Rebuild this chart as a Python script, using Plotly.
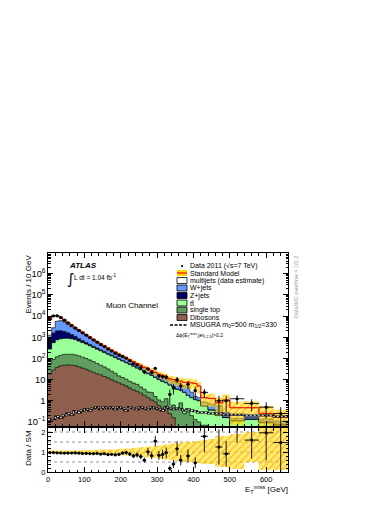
import numpy as np
import plotly.graph_objects as go

# ----------------------------------------------------------------------
# Data (Events / 10 GeV)
# ----------------------------------------------------------------------
BIN_EDGES = list(range(0, 430, 10)) + [440, 460, 480, 500, 540, 580, 620, 660]

DIBOSONS = [18, 28, 38, 45, 48, 49, 48, 46, 40, 35,
            31, 26, 22, 19, 17, 14, 12, 10, 8.3, 7.1,
            6.0, 5.0, 4.0, 3.3, 2.8, 2.3, 1.8, 1.4, 1.1, 0.9,
            0.6, 0.45, 0.56, 0.25, 0.16, 0.03, 0.03, 0.03, 0.03, 0.03,
            0.02, 0.02, 0.01, 0.01, 0.01, 0.01, 0.01, 0.01, 0.01, 0.01]
SINGLE_TOP = [38, 61, 82, 96, 107, 109, 110, 102, 92, 80,
              69, 59, 49, 39, 31, 26, 20, 15, 11.7, 7.9,
              6.6, 5.5, 4.3, 3.6, 3.2, 2.2, 1.7, 1.2, 1.4, 0.7,
              0.5, 0.45, 0.7, 0.25, 0.47, 0.37, 0.77, 0.22, 0.27, 0.17,
              0.11, 0.08, 0.06, 0.05, 0.04, 0.03, 0.02, 0.02, 0.02, 0.01]
TTBAR = [224, 470, 640, 710, 735, 732, 692, 628, 528, 447,
         379, 313, 260, 217, 181, 151, 126, 107, 90, 76,
         63, 52, 44, 36, 29, 24.5, 20.5, 16.4, 13.5, 11,
         8.9, 7.4, 5.8, 5.0, 4.0, 3.1, 2.4, 2.25, 1.5, 1.2,
         1.0, 0.9, 0.5, 0.3, 0.15, 0.12, 0.08, 0.1, 0.06, 0.05]
ZJETS = [610, 1020, 1240, 1200, 1000, 750, 500, 330, 200, 130,
         85, 60, 45, 34, 26, 20, 15, 11, 8, 6,
         4.5, 3.5, 2.6, 2, 1.5, 1.1, 0.8, 0.6, 0.5, 0.4,
         0.3, 0.25, 0.2, 0.15, 0.12, 0.1, 0.08, 0.06, 0.05, 0.04,
         0.03, 0.03, 0.02, 0.02, 0.01, 0.01, 0.01, 0.01, 0.01, 0.01]
WJETS = [370, 1240, 3700, 4060, 3370, 2300, 1800, 1400, 1100, 860,
         660, 495, 375, 275, 210, 158, 120, 93, 74, 55,
         43, 33, 26, 21, 17, 15, 11, 10, 8.5, 8,
         6.3, 5.9, 4.7, 3.8, 3.6, 3.5, 3.0, 2.4, 2.6, 1.1,
         0.47, 0.37, 0.28, 0.33, 0.37, 0.11, 0.03, 0.03, 0.04, 0.03]
MULTIJETS = [5820, 7680, 5000, 2800, 1500, 1070, 650, 370, 280, 188,
             127, 97, 62, 47, 36, 29, 23, 15, 12, 10,
             8, 7, 6, 5, 4, 3, 3, 2, 2, 1,
             1.4, 1.5, 1.5, 1.5, 1.7, 1.5, 2.2, 2.5, 3.0, 4.5,
             4.9, 3.6, 0.53, 0.59, 0.22, 0.82, 0.32, 0.3, 0.115, 0.06]
MSUGRA = [0.13, 0.14, 0.18, 0.16, 0.2, 0.25, 0.22, 0.32, 0.28, 0.35,
          0.4, 0.35, 0.45, 0.5, 0.4, 0.5, 0.45, 0.5, 0.4, 0.5,
          0.45, 0.35, 0.5, 0.45, 0.4, 0.5, 0.45, 0.4, 0.5, 0.45,
          0.4, 0.35, 0.5, 0.45, 0.4, 0.45, 0.4, 0.35, 0.4, 0.35,
          0.32, 0.28, 0.28, 0.25, 0.25, 0.22, 0.22, 0.2, 0.2, 0.18]
DATA = [6890, 10190, 10270, 8460, 6390, 4750, 3610, 2750, 2110, 1620,
        1256, 966, 745, 586, 450, 364, 275, 222, 175, 143,
        124, 103, 78, 57, 49, 37, 23, 32, 22, 34,
        15, 14, 13, 2, 4, 10, 5, None, 6, None,
        3, None, 2.5, None, 1.0, 1.0, 1.25, 0.75, 0.5, 0.25]
# relative SM uncertainty (up / down)
SYST_UP = [0.08, 0.08, 0.08, 0.08, 0.08, 0.08, 0.08, 0.08, 0.08, 0.09,
           0.10, 0.10, 0.11, 0.11, 0.12, 0.12, 0.13, 0.13, 0.14, 0.15,
           0.16, 0.17, 0.18, 0.20, 0.22, 0.24, 0.25, 0.27, 0.28, 0.30,
           0.32, 0.35, 0.38, 0.40, 0.42, 0.45, 0.45, 0.50, 0.50, 0.50,
           0.55, 0.55, 0.60, 0.65, 0.80, 0.80, 0.90, 1.0, 1.2, 1.2]
SYST_DN = [0.08, 0.08, 0.08, 0.08, 0.08, 0.08, 0.08, 0.08, 0.08, 0.09,
           0.10, 0.10, 0.11, 0.11, 0.12, 0.12, 0.13, 0.13, 0.14, 0.15,
           0.16, 0.17, 0.18, 0.20, 0.22, 0.24, 0.25, 0.27, 0.28, 0.30,
           0.32, 0.35, 0.38, 0.40, 0.42, 0.45, 0.45, 0.50, 0.50, 0.50,
           0.55, 0.55, 0.60, 0.60, 0.75, 0.75, 0.85, 0.50, 0.90, 0.90]

# ----------------------------------------------------------------------
# Style
# ----------------------------------------------------------------------
FONT = "Liberation Sans"
COLORS = {
    "Dibosons": "#8e5f4c",
    "single top": "#5f9e5f",
    "ttbar": "#99ff99",
    "Z+jets": "#000066",
    "W+jets": "#6699ff",
    "multijets": "#ffffff",
}
BAND_BG = "rgba(255,225,0,0.6)"
BAND_FG = "rgba(255,70,0,0.7)"

# figure pixel frame
W, H = 390, 505
L, R, T, B = 48, 288, 253, 472


def px_x(p):
    return (p - L) / (R - L)


def px_y(p):
    return (B - p) / (B - T)


def step(vals):
    return list(vals) + [vals[-1]]


edges = np.array(BIN_EDGES, dtype=float)
centers = 0.5 * (edges[1:] + edges[:-1])
widths = edges[1:] - edges[:-1]
scale = widths / 10.0

components = [
    ("Dibosons", DIBOSONS),
    ("single top", SINGLE_TOP),
    ("ttbar", TTBAR),
    ("Z+jets", ZJETS),
    ("W+jets", WJETS),
    ("multijets", MULTIJETS),
]
sm = np.sum([np.array(v, dtype=float) for _, v in components], axis=0)
up = sm * (1 + np.array(SYST_UP))
dn = np.maximum(sm * (1 - np.array(SYST_DN)), 1e-3)

data = np.array([np.nan if v is None else v for v in DATA], dtype=float)
counts = data * scale
err = np.sqrt(counts) / scale
err_lo = np.minimum(err, 0.97 * data)
ratio = data / sm
ratio_err = err / sm

fig = go.Figure()

# stacked backgrounds
for name, vals in components:
    fig.add_trace(go.Scatter(
        x=edges, y=step(vals), mode="lines", stackgroup="sm",
        line=dict(shape="hv", color="black", width=0.7),
        fillcolor=COLORS[name], xaxis="x", yaxis="y",
    ))

# SM uncertainty band
band_pattern = dict(shape="/", bgcolor=BAND_BG, fgcolor=BAND_FG, size=5, solidity=0.25)
fig.add_trace(go.Scatter(
    x=edges, y=step(dn), mode="lines", line=dict(shape="hv", width=0),
    xaxis="x", yaxis="y",
))
fig.add_trace(go.Scatter(
    x=edges, y=step(up), mode="lines", line=dict(shape="hv", width=0),
    fill="tonexty", fillpattern=band_pattern, xaxis="x", yaxis="y",
))
fig.add_trace(go.Scatter(
    x=edges, y=step(sm), mode="lines", line=dict(shape="hv", color="red", width=1),
    xaxis="x", yaxis="y",
))

# MSUGRA signal
fig.add_trace(go.Scatter(
    x=edges, y=step(MSUGRA), mode="lines", line=dict(shape="hv", color="black", width=2),
    xaxis="x", yaxis="y",
))
fig.add_trace(go.Scatter(
    x=edges, y=step(MSUGRA), mode="lines",
    line=dict(shape="hv", color="white", width=0.9, dash="2px,2px"),
    xaxis="x", yaxis="y",
))

# data
fig.add_trace(go.Scatter(
    x=centers, y=data, mode="markers",
    marker=dict(color="black", size=3.2),
    error_y=dict(type="data", symmetric=False, array=err, arrayminus=err_lo,
                 color="black", thickness=0.9, width=0),
    error_x=dict(type="data", array=widths / 2, color="black", thickness=0.9, width=0),
    xaxis="x", yaxis="y",
))

# ratio panel
fig.add_trace(go.Scatter(
    x=edges, y=step(1 - np.array(SYST_DN)), mode="lines", line=dict(shape="hv", width=0),
    xaxis="x2", yaxis="y2",
))
fig.add_trace(go.Scatter(
    x=edges, y=step(1 + np.array(SYST_UP)), mode="lines", line=dict(shape="hv", width=0),
    fill="tonexty", fillpattern=band_pattern, xaxis="x2", yaxis="y2",
))
fig.add_trace(go.Scatter(
    x=centers, y=ratio, mode="markers",
    marker=dict(color="black", size=3.2),
    error_y=dict(type="data", array=ratio_err, color="black", thickness=0.9, width=0),
    error_x=dict(type="data", array=widths / 2, color="black", thickness=0.9, width=0),
    xaxis="x2", yaxis="y2",
))

tickfont = dict(family=FONT, size=7.5, color="black")
axis_common = dict(
    showline=True, linecolor="black", linewidth=1, mirror="allticks",
    ticks="inside", ticklen=5, tickcolor="black", showgrid=False, zeroline=False,
    tickfont=tickfont,
)

shapes = []
for yv in [0.5, 1.0, 1.5, 2.0]:
    shapes.append(dict(type="line", xref="x2", yref="y2", x0=0, x1=660, y0=yv, y1=yv,
                       line=dict(color="#777777", width=0.8, dash="dot"), layer="below"))

# legend drawn by hand (compact ROOT style)
leg_x0, leg_x1 = 177, 187
rows = [266, 273, 280.5, 288, 295.5, 303, 310, 317.5]
annotations = []
leg_entries = [
    ("Data 2011 (\u221as=7 TeV)", None),
    ("Standard Model", "sm"),
    ("multijets (data estimate)", COLORS["multijets"]),
    ("W+jets", COLORS["W+jets"]),
    ("Z+jets", COLORS["Z+jets"]),
    ("tt\u0304", COLORS["ttbar"]),
    ("single top", COLORS["single top"]),
    ("Dibosons", COLORS["Dibosons"]),
]
for (label, col), yr in zip(leg_entries, rows):
    if col is None:
        shapes.append(dict(type="circle", xref="paper", yref="paper",
                           x0=px_x(181), x1=px_x(183.2), y0=px_y(265), y1=px_y(267.2),
                           fillcolor="black", line=dict(width=0)))
    elif col == "sm":
        shapes.append(dict(type="rect", xref="paper", yref="paper",
                           x0=px_x(leg_x0), x1=px_x(leg_x1), y0=px_y(yr + 3), y1=px_y(yr - 3),
                           fillcolor="#ffd700", line=dict(width=0)))
        shapes.append(dict(type="line", xref="paper", yref="paper",
                           x0=px_x(leg_x0), x1=px_x(leg_x1), y0=px_y(yr), y1=px_y(yr),
                           line=dict(color="red", width=1.2)))
    else:
        shapes.append(dict(type="rect", xref="paper", yref="paper",
                           x0=px_x(leg_x0), x1=px_x(leg_x1), y0=px_y(yr + 3), y1=px_y(yr - 3),
                           fillcolor=col, line=dict(color="black", width=0.8)))
    annotations.append(dict(x=px_x(188), y=px_y(yr), xref="paper", yref="paper",
                            text=label, showarrow=False, xanchor="left", yanchor="middle",
                            font=dict(family=FONT, size=7, color="black")))

shapes.append(dict(type="line", xref="paper", yref="paper",
                   x0=px_x(170), x1=px_x(187), y0=px_y(325), y1=px_y(325),
                   line=dict(color="black", width=1.6, dash="3px,1.5px")))
annotations.append(dict(x=px_x(188), y=px_y(325), xref="paper", yref="paper",
                        text="MSUGRA m<sub>0</sub>=500 m<sub>1/2</sub>=330", showarrow=False,
                        xanchor="left", yanchor="middle",
                        font=dict(family=FONT, size=7, color="black")))
annotations.append(dict(x=px_x(174), y=px_y(335), xref="paper", yref="paper",
                        text="\u0394\u03c6(E<sub>T</sub><sup>miss</sup>,jet<sub>1,2,3</sub>)>0.2",
                        showarrow=False, xanchor="left", yanchor="middle",
                        font=dict(family=FONT, size=5, color="black")))

# labels
annotations += [
    dict(x=px_x(67), y=px_y(265), xref="paper", yref="paper", text="<b><i>ATLAS</i></b>",
         showarrow=False, xanchor="left", yanchor="middle",
         font=dict(family=FONT, size=8, color="black")),
    dict(x=px_x(65), y=px_y(279), xref="paper", yref="paper", text="\u222b",
         showarrow=False, xanchor="left", yanchor="middle",
         font=dict(family="DejaVu Sans", size=15, color="black")),
    dict(x=px_x(72), y=px_y(277), xref="paper", yref="paper",
         text="L dt = 1.04 fb<sup>-1</sup>",
         showarrow=False, xanchor="left", yanchor="middle",
         font=dict(family=FONT, size=6.5, color="black")),
    dict(x=px_x(104), y=px_y(305), xref="paper", yref="paper", text="Muon Channel",
         showarrow=False, xanchor="left", yanchor="middle",
         font=dict(family=FONT, size=8, color="black")),
    dict(x=px_x(28), y=px_y(253), xref="paper", yref="paper", text="Events / 10 GeV",
         showarrow=False, textangle=-90, xanchor="center", yanchor="top",
         font=dict(family=FONT, size=8, color="black")),
    dict(x=px_x(28), y=px_y(428), xref="paper", yref="paper", text="Data / SM",
         showarrow=False, textangle=-90, xanchor="center", yanchor="top",
         font=dict(family=FONT, size=8, color="black")),
    dict(x=px_x(290), y=px_y(489), xref="paper", yref="paper",
         text="E<sub>T</sub><sup>miss</sup> [GeV]",
         showarrow=False, xanchor="right", yanchor="middle",
         font=dict(family=FONT, size=8, color="black")),
    dict(x=px_x(296), y=px_y(254), xref="paper", yref="paper",
         text="Data/MC overflow = 1/0.2",
         showarrow=False, textangle=-90, xanchor="center", yanchor="top",
         font=dict(family=FONT, size=5.5, color="#999999")),
]

fig.update_layout(
    width=W, height=H,
    margin=dict(l=L, r=W - R, t=T, b=H - B),
    plot_bgcolor="white", paper_bgcolor="white",
    showlegend=False,
    xaxis=dict(domain=[0, 1], anchor="y", range=[0, 660], showticklabels=False,
               dtick=100, minor=dict(dtick=20, ticks="inside", ticklen=2.5, tickcolor="black"),
               **axis_common),
    yaxis=dict(domain=[px_y(426), 1], anchor="x", type="log", range=[-1.19, 6.98],
               dtick=1, exponentformat="power",
               minor=dict(ticks="inside", ticklen=2.5, tickcolor="black"),
               **axis_common),
    xaxis2=dict(domain=[0, 1], anchor="y2", range=[0, 660], matches="x",
                dtick=100, minor=dict(dtick=20, ticks="inside", ticklen=2.5, tickcolor="black"),
                **axis_common),
    yaxis2=dict(domain=[0, px_y(428)], anchor="x2", range=[0, 2.2], dtick=1,
                minor=dict(dtick=0.2, ticks="inside", ticklen=2.5, tickcolor="black"),
                **axis_common),
    shapes=shapes,
    annotations=annotations,
)

# the page's default body margin would offset the figure by 8 px
fig.write_html("out.html", config={"displayModeBar": False},
               post_script="document.body.style.margin = '0px';")
